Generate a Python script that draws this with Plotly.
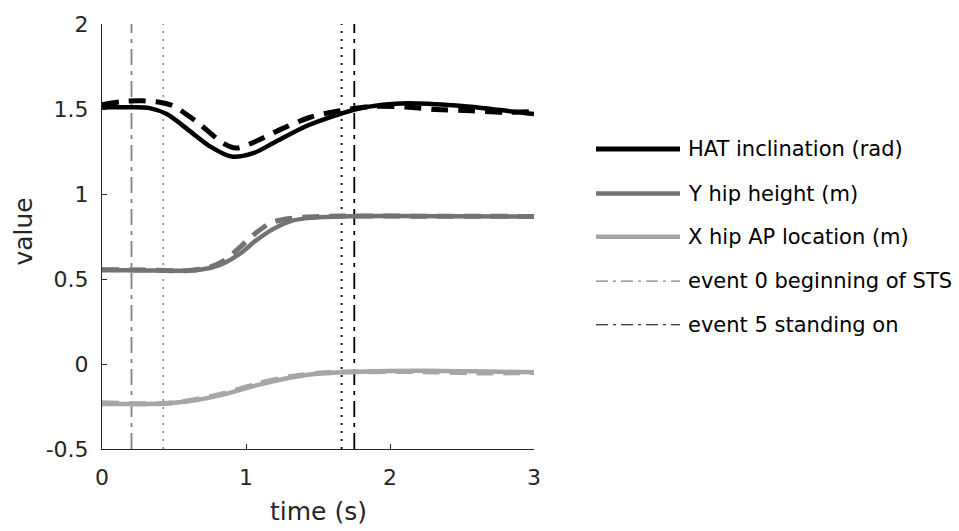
import plotly.graph_objects as go

# ---- data ----
hat_t = [0, 0.2, 0.33, 0.45, 0.61, 0.75, 0.9, 1.05, 1.19, 1.42, 1.65, 1.77, 1.95, 2.12, 2.46, 2.75, 3.0]
hat_v = [1.51, 1.51, 1.505, 1.47, 1.37, 1.28, 1.22, 1.24, 1.30, 1.40, 1.47, 1.50, 1.525, 1.534, 1.52, 1.495, 1.47]

hat_ref_t = [0, 0.15, 0.28, 0.4, 0.49, 0.6, 0.68, 0.84, 0.93, 1.07, 1.24, 1.44, 1.65, 1.88, 2.11, 2.32, 2.56, 2.79, 3.0]
hat_ref_v = [1.525, 1.545, 1.548, 1.54, 1.52, 1.46, 1.41, 1.30, 1.27, 1.31, 1.38, 1.45, 1.49, 1.515, 1.512, 1.497, 1.49, 1.48, 1.485]

yhip_t = [0, 0.3, 0.61, 0.75, 0.84, 0.96, 1.07, 1.19, 1.31, 1.42, 1.65, 2.0, 3.0]
yhip_v = [0.553, 0.55, 0.55, 0.565, 0.59, 0.65, 0.727, 0.795, 0.84, 0.858, 0.868, 0.87, 0.868]

yhip_ref_t = [0, 0.3, 0.6, 0.75, 0.85, 0.93, 1.06, 1.17, 1.26, 1.4, 1.65, 2.0, 3.0]
yhip_ref_v = [0.555, 0.553, 0.55, 0.57, 0.61, 0.665, 0.765, 0.83, 0.85, 0.863, 0.87, 0.87, 0.868]

xhip_t = [0, 0.43, 0.61, 0.84, 1.07, 1.31, 1.54, 1.77, 2.23, 2.6, 3.0]
xhip_v = [-0.235, -0.233, -0.218, -0.18, -0.126, -0.079, -0.054, -0.045, -0.039, -0.043, -0.049]

xhip_ref_t = [0, 0.43, 0.61, 0.84, 1.07, 1.31, 1.54, 1.77, 2.23, 2.6, 3.0]
xhip_ref_v = [-0.228, -0.232, -0.215, -0.175, -0.118, -0.074, -0.052, -0.046, -0.045, -0.053, -0.05]

event_times = [0.205, 0.426, 1.664, 1.752]
event_colors = ["#808080", "#909090", "#000000", "#000000"]
event_dash = ["16px,6px,4px,6px", "2px,6px", "2px,6px", "16px,6px,4px,6px"]

y_range = [-0.5, 2]
x_range = [0, 3]
x_ticks = [0, 1, 2, 3]
y_ticks = [-0.5, 0, 0.5, 1, 1.5, 2]
y_ticktext = ["-0.5", "0", "0.5", "1", "1.5", "2"]

legend_labels = ["HAT inclination (rad)", "Y hip height (m)", "X hip AP location (m)",
                 "event 0 beginning of STS", "event 5 standing on"]

C_HAT = "#000000"
C_Y = "#737373"
C_X = "#a6a6a6"

FONT = "DejaVu Sans"
TXT = "#262626"

fig = go.Figure()

# event lines
for t, c, d in zip(event_times, event_colors, event_dash):
    fig.add_trace(go.Scatter(x=[t, t], y=y_range, mode="lines",
                             line=dict(color=c, width=1.8, dash=d),
                             showlegend=False, hoverinfo="skip"))

DASH = "17px,10px"
for tt, vv, col in [(hat_ref_t, hat_ref_v, C_HAT), (yhip_ref_t, yhip_ref_v, C_Y), (xhip_ref_t, xhip_ref_v, C_X)]:
    fig.add_trace(go.Scatter(x=tt, y=vv, mode="lines",
                             line=dict(color=col, width=5, dash=DASH, shape="spline", smoothing=0.8),
                             showlegend=False))
for tt, vv, col in [(hat_t, hat_v, C_HAT), (yhip_t, yhip_v, C_Y), (xhip_t, xhip_v, C_X)]:
    fig.add_trace(go.Scatter(x=tt, y=vv, mode="lines",
                             line=dict(color=col, width=4.5, shape="spline", smoothing=0.8),
                             showlegend=False))

# manual legend (paper coords)
L0, T0, PW, PH = 102, 17, 432, 432
def px(xp):
    return (xp - L0) / PW
def py(yp):
    return (T0 + PH - yp) / PH

leg_rows = [144, 189.3, 233.3, 278.3, 322.7]
leg_styles = [(C_HAT, 5, "solid"), (C_Y, 4.5, "solid"), (C_X, 4.5, "solid"),
              ("#808080", 1.2, "12px,5px,3px,5px"), ("#000000", 1.2, "12px,5px,3px,5px")]
shapes = []
annotations = []
for yrow, (col, w, d), lab in zip(leg_rows, leg_styles, legend_labels):
    shapes.append(dict(type="line", xref="paper", yref="paper",
                       x0=px(596), x1=px(680), y0=py(yrow), y1=py(yrow),
                       line=dict(color=col, width=w, dash=d)))
    annotations.append(dict(text=lab, xref="paper", yref="paper", x=px(686), y=py(yrow),
                            xanchor="left", yanchor="middle", showarrow=False,
                            font=dict(family=FONT, size=21, color="#000000")))

annotations.append(dict(text="time (s)", xref="paper", yref="paper", x=px(318), y=py(513),
                        xanchor="center", yanchor="middle", showarrow=False,
                        font=dict(family=FONT, size=25, color=TXT)))
annotations.append(dict(text="value", xref="paper", yref="paper", x=px(24), y=py(228),
                        xanchor="center", yanchor="middle", showarrow=False, textangle=-90,
                        font=dict(family=FONT, size=25, color=TXT)))

fig.update_layout(
    width=959, height=531,
    margin=dict(l=102, r=959 - 534, t=17, b=531 - 449),
    plot_bgcolor="white", paper_bgcolor="white",
    shapes=shapes, annotations=annotations,
    font=dict(family=FONT, size=22, color=TXT),
    xaxis=dict(range=x_range, tickvals=x_ticks, ticks="inside", ticklen=5, tickwidth=1,
               tickcolor=TXT, showline=True, linecolor=TXT, linewidth=1, showgrid=False,
               zeroline=False, ticklabelstandoff=9, tickfont=dict(family=FONT, size=22, color=TXT)),
    yaxis=dict(range=y_range, tickvals=y_ticks, ticktext=y_ticktext,
               ticks="inside", ticklen=5, tickwidth=1,
               tickcolor=TXT, showline=True, linecolor=TXT, linewidth=1, showgrid=False,
               zeroline=False, ticklabelstandoff=8, tickfont=dict(family=FONT, size=22, color=TXT)),
)

fig.write_html("out.html")
